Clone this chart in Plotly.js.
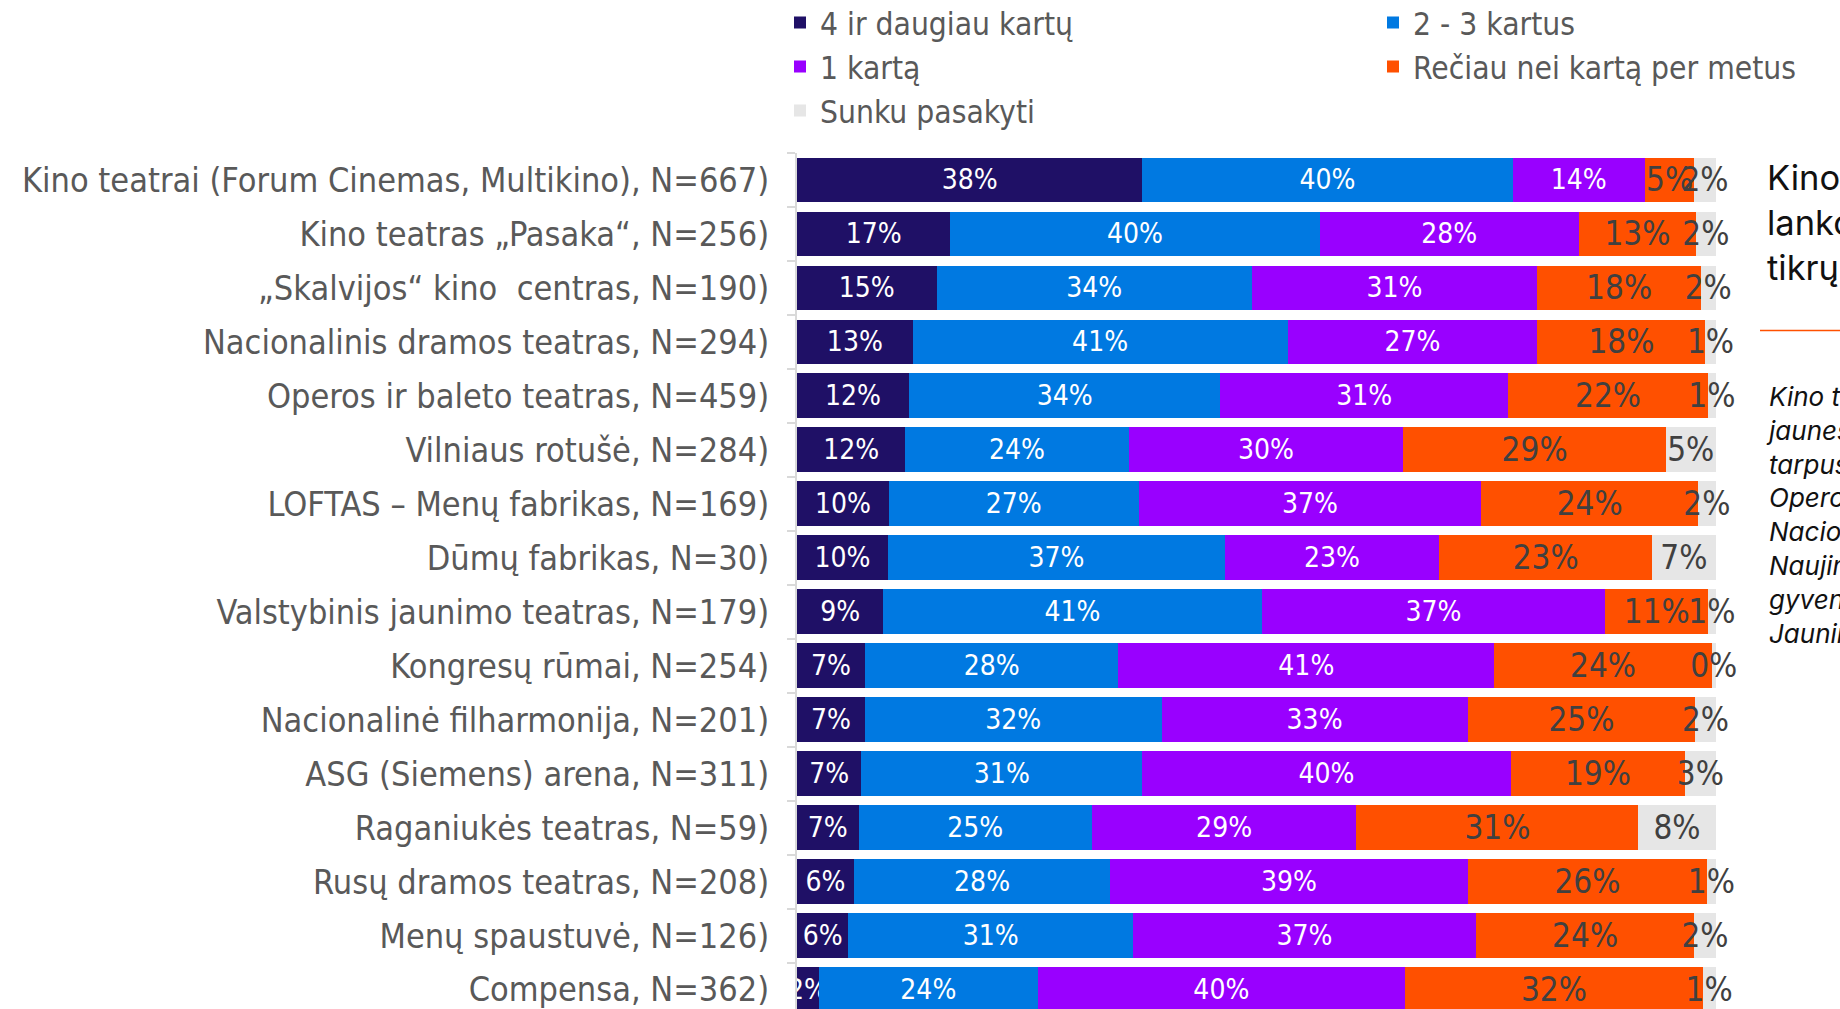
<!DOCTYPE html>
<html>
<head>
<meta charset="utf-8">
<script src="https://cdn.plot.ly/plotly-3.0.1.min.js"></script>
<style>
html,body{margin:0;padding:0;background:#fff;overflow:hidden;}
#chart{width:1840px;height:1009px;}
</style>
</head>
<body>
<div id="chart"></div>
<script>
// ---- data ----
const categories = [
  "Kino teatrai (Forum Cinemas, Multikino), N=667)",
  "Kino teatras „Pasaka“, N=256)",
  "„Skalvijos“ kino  centras, N=190)",
  "Nacionalinis dramos teatras, N=294)",
  "Operos ir baleto teatras, N=459)",
  "Vilniaus rotušė, N=284)",
  "LOFTAS – Menų fabrikas, N=169)",
  "Dūmų fabrikas, N=30)",
  "Valstybinis jaunimo teatras, N=179)",
  "Kongresų rūmai, N=254)",
  "Nacionalinė filharmonija, N=201)",
  "ASG (Siemens) arena, N=311)",
  "Raganiukės teatras, N=59)",
  "Rusų dramos teatras, N=208)",
  "Menų spaustuvė, N=126)",
  "Compensa, N=362)"
];
const seriesNames = ["4 ir daugiau kartų", "2 - 3 kartus", "1 kartą", "Rečiau nei kartą per metus", "Sunku pasakyti"];
const v4   = [37.6,16.7,15.2,12.6,12.2,11.8,10.0, 9.9, 9.4, 7.4, 7.4, 7.0, 6.7, 6.2, 5.6, 2.4];
const v23  = [40.3,40.2,34.3,40.8,33.9,24.3,27.2,36.7,41.2,27.6,32.3,30.6,25.4,27.9,31.0,23.8];
const v1   = [14.4,28.2,31.1,27.2,31.3,29.9,37.3,23.3,37.4,40.9,33.3,40.1,28.8,38.9,37.3,40.0];
const vRare= [ 5.4,12.8,17.8,18.3,21.8,28.6,23.6,23.2,11.2,23.7,24.8,19.0,30.7,26.1,23.8,32.4];
const vHard= [ 2.3, 2.1, 1.6, 1.1, 0.8, 5.4, 1.9, 6.9, 0.8, 0.4, 2.2, 3.3, 8.4, 0.9, 2.3, 1.4];

const sideTitle = "Kino teatrai –<br>lankomiausios<br>tikrų kultūros vietų";
const sideNote = "Kino teatrai dažniausiai lankomi<br>jaunesnio amžiaus gyventojų<br>tarpusavyje, o kitos vietos –<br>Operos ir baleto teatras,<br>Nacionalinis dramos teatras<br>Naujininkų ir kitų seniūnijų<br>gyventojų dažniau lankomos<br>Jaunimo teatre.";

// ---- style ----
const colors = ["#1f1066", "#0079e1", "#9900ff", "#ff5000", "#e6e6e6"];
const textColors = ["#ffffff", "#ffffff", "#ffffff", "#404040", "#404040"];
const textSizes = [28, 28, 28, 33, 33];
const legendIds = ["legend", "legend2", "legend", "legend2", "legend"];
const narrow = "Liberation Sans Narrow, DejaVu Sans Condensed, Arial Narrow, sans-serif";

const W = 1840, H = 1009;
const M = {l: 797, r: 124, t: 152.5, b: 0};
const pw = W - M.l - M.r, ph = H - M.t - M.b;
const px2x = p => (p - M.l) / pw;
const px2y = p => (H - M.b - p) / ph;

const allVals = [v4, v23, v1, vRare, vHard];
const traces = allVals.map((vals, i) => ({
  type: "bar",
  orientation: "h",
  name: seriesNames[i],
  y: categories,
  x: vals,
  legend: legendIds[i],
  marker: {color: colors[i], line: {width: 0}},
  texttemplate: "%{x:.0f}%",
  textposition: "inside",
  insidetextanchor: "middle",
  textangle: 0,
  constraintext: "none",
  cliponaxis: false,
  insidetextfont: {family: narrow, size: textSizes[i], color: textColors[i]},
  hoverinfo: "x+y+name"
}));

const legendCommon = {
  orientation: "v",
  traceorder: "normal",
  font: {family: narrow, size: 31.5, color: "#595959"},
  bgcolor: "rgba(0,0,0,0)",
  xanchor: "left",
  yanchor: "top",
  itemclick: false,
  itemdoubleclick: false
};

const layout = {
  width: W, height: H,
  margin: {l: M.l, r: M.r, t: M.t, b: M.b, autoexpand: false},
  paper_bgcolor: "#ffffff",
  plot_bgcolor: "#ffffff",
  barmode: "stack",
  bargap: 0.17,
  showlegend: true,
  legend: Object.assign({}, legendCommon, {x: px2x(780), y: px2y(-5)}),
  legend2: Object.assign({}, legendCommon, {x: px2x(1373), y: px2y(-5)}),
  xaxis: {range: [0, 100.05], visible: false, fixedrange: true},
  yaxis: {
    type: "category",
    autorange: false,
    range: [15.36, -0.5],
    showline: true, linecolor: "#d9d9d9", linewidth: 2,
    ticks: "outside", tickson: "boundaries", ticklen: 8, tickcolor: "#d9d9d9", tickwidth: 2,
    ticklabelstandoff: 19,
    tickfont: {family: narrow, size: 34, color: "#595959"},
    showgrid: false, zeroline: false, fixedrange: true
  },
  annotations: [
    {xref: "paper", yref: "paper", x: px2x(1765), y: px2y(222), xanchor: "left", yanchor: "middle",
     text: sideTitle, showarrow: false, align: "left",
     font: {family: "Inter, Lato, sans-serif", size: 34.5, color: "#111111"}},
    {xref: "paper", yref: "paper", x: px2x(1764), y: px2y(515), xanchor: "left", yanchor: "middle",
     text: "<i>" + sideNote + "</i>", showarrow: false, align: "left",
     font: {family: "Inter, Lato, sans-serif", size: 26, color: "#111111"}}
  ],
  shapes: [
    {type: "line", xref: "paper", yref: "paper", x0: px2x(1760), x1: px2x(1900), y0: px2y(330), y1: px2y(330),
     line: {color: "#ff5000", width: 1.5}}
  ]
};

Plotly.newPlot("chart", traces, layout, {displayModeBar: false, staticPlot: true});
</script>
</body>
</html>
